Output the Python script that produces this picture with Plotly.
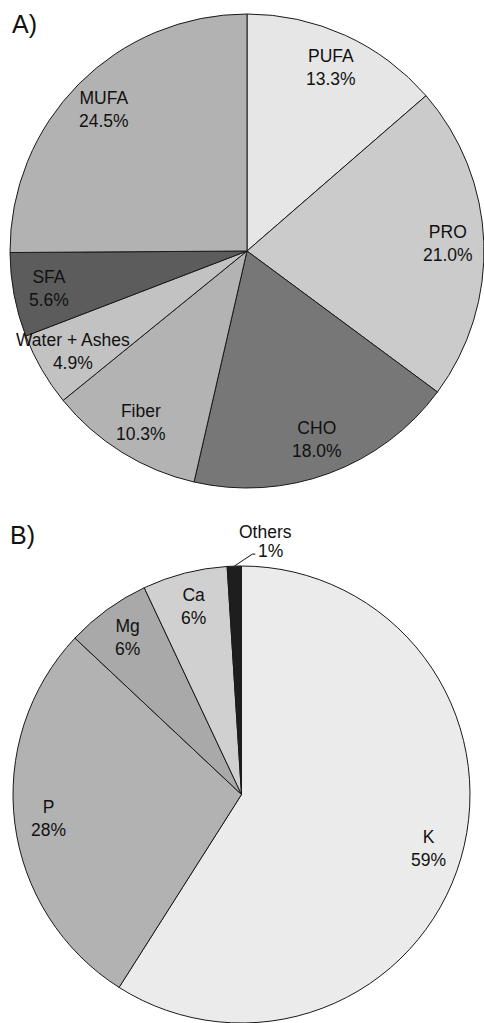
import math
import plotly.graph_objects as go

W, H = 484, 1023

# ---- data ----
a_labels = ["PUFA", "PRO", "CHO", "Fiber", "Water + Ashes", "SFA", "MUFA"]
a_values = [13.3, 21.0, 18.0, 10.3, 4.9, 5.6, 24.5]
a_text = ["13.3%", "21.0%", "18.0%", "10.3%", "4.9%", "5.6%", "24.5%"]
a_colors = ["#e6e6e6", "#cbcbcb", "#777777", "#b3b3b3", "#c2c2c2", "#5c5c5c", "#b2b2b2"]

b_labels = ["K", "P", "Mg", "Ca", "Others"]
b_values = [59, 28, 6, 6, 1]
b_text = ["59%", "28%", "6%", "6%", "1%"]
b_colors = ["#ebebeb", "#b2b2b2", "#a9a9a9", "#d0d0d0", "#1e1e1e"]

FONT = "Liberation Sans, Arial, sans-serif"
FS = 17.5

# domains in pixels (x0, x1, ytop, ybottom)
domA = (10, 484, 14, 488)
domB = (12, 471, 566, 1023)


def to_dom(d):
    x0, x1, yt, yb = d
    return dict(x=[x0 / W, x1 / W], y=[1 - yb / H, 1 - yt / H])


def geom(d):
    x0, x1, yt, yb = d
    w, h = x1 - x0, yb - yt
    r = min(w, h) / 2
    return (x0 + x1) / 2, (yt + yb) / 2, r


fig = go.Figure()
for labels, values, colors, d in [(a_labels, a_values, a_colors, domA),
                                   (b_labels, b_values, b_colors, domB)]:
    fig.add_trace(go.Pie(
        labels=labels, values=values, sort=False, direction="clockwise",
        rotation=0, textinfo="none", hoverinfo="label+percent",
        marker=dict(colors=colors, line=dict(color="#1a1a1a", width=1)),
        domain=to_dom(d), showlegend=False,
    ))

annotations = []
shapes = []


def txt(x, y, text, size=FS, xanchor="center"):
    annotations.append(dict(
        x=x / W, y=1 - y / H, xref="paper", yref="paper", text=text,
        showarrow=False, font=dict(family=FONT, size=size, color="#111111"),
        xanchor=xanchor, yanchor="middle",
    ))


def add_labels(labels, values, texts, d, skip=()):
    cx, cy, r = geom(d)
    total = sum(values)
    cum = 0
    out = []
    for lab, v, t in zip(labels, values, texts):
        mid = (cum + v / 2) / total
        cum += v
        th = 2 * math.pi * mid
        out.append((lab, t, th))
        if lab in skip:
            continue
        k = 0.85
        txt(cx + k * r * math.sin(th), cy - k * r * math.cos(th), f"{lab}<br>{t}")
    return cx, cy, r, out


add_labels(a_labels, a_values, a_text, domA)
cx, cy, r, items = add_labels(b_labels, b_values, b_text, domB, skip=("Others",))
for lab, t, th in items:
    if lab == "Others":
        px = cx + r * math.sin(th)
        py = cy - r * math.cos(th)
        # leader line: diagonal then short horizontal
        pts = [(px, py), (px + 18, py - 12), (px + 21, py - 12)]
        for (x0, y0), (x1, y1) in zip(pts[:-1], pts[1:]):
            shapes.append(dict(type="line", xref="paper", yref="paper",
                               x0=x0 / W, y0=1 - y0 / H, x1=x1 / W, y1=1 - y1 / H,
                               line=dict(color="#111111", width=1)))
        txt(px + 22, py - 15, t, xanchor="left")
        txt(px + 31, py - 34, lab)

txt(10, 24, "A)", size=25, xanchor="left")
txt(8, 535, "B)", size=25, xanchor="left")

fig.update_layout(
    width=W, height=H, margin=dict(l=0, r=0, t=0, b=0),
    paper_bgcolor="white", plot_bgcolor="white",
    annotations=annotations, shapes=shapes,
)
fig.write_html("out.html", config={"displayModeBar": False},
               post_script="document.body.style.margin='0';document.body.style.overflow='hidden';")
